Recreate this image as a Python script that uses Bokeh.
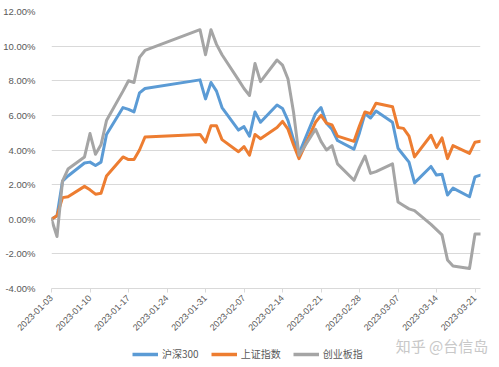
import pandas as pd
from bokeh.plotting import figure
from bokeh.layouts import column
from bokeh.models import (ColumnDataSource, FixedTicker, DatetimeTickFormatter,
                          PrintfTickFormatter, Legend, LegendItem, Range1d, Label)
from bokeh.embed import file_html
from bokeh.resources import INLINE
import math

dates = ["2023-01-03", "2023-01-04", "2023-01-05", "2023-01-06", "2023-01-09", "2023-01-10",
         "2023-01-11", "2023-01-12", "2023-01-13", "2023-01-16", "2023-01-17", "2023-01-18",
         "2023-01-19", "2023-01-20", "2023-01-30", "2023-01-31",
         "2023-02-01", "2023-02-02", "2023-02-03", "2023-02-06", "2023-02-07", "2023-02-08",
         "2023-02-09", "2023-02-10", "2023-02-13", "2023-02-14", "2023-02-15", "2023-02-16",
         "2023-02-17", "2023-02-20", "2023-02-21", "2023-02-22", "2023-02-23", "2023-02-24",
         "2023-02-27", "2023-02-28",
         "2023-03-01", "2023-03-02", "2023-03-03", "2023-03-06", "2023-03-07", "2023-03-08",
         "2023-03-09", "2023-03-10", "2023-03-13", "2023-03-14", "2023-03-15", "2023-03-16",
         "2023-03-17", "2023-03-20", "2023-03-21", "2023-03-22"]

hs300 = [0.0, 0.2, 2.2, 2.5, 3.25, 3.3, 3.1, 3.3, 4.9, 6.45, 6.35, 6.2, 7.3, 7.55, 8.05, 6.95,
         7.9, 7.4, 6.45, 5.15, 5.35, 4.8, 6.2, 5.6, 6.6, 6.4, 5.7, 4.6, 3.8, 6.1, 6.45, 5.55,
         5.2, 4.55, 4.05, 5.0,
         6.1, 5.85, 6.25, 5.6, 4.1, 3.7, 3.3, 2.1, 3.05, 2.55, 2.6, 1.4, 1.8, 1.3, 2.45, 2.55]

sse = [0.0, 0.2, 1.25, 1.3, 1.9, 1.7, 1.45, 1.5, 2.5, 3.6, 3.45, 3.45, 4.0, 4.75, 4.9, 4.45,
       5.4, 5.4, 4.6, 3.9, 4.2, 3.7, 4.9, 4.65, 5.3, 5.65, 5.2, 4.3, 3.5, 5.6, 6.0, 5.55,
       5.45, 4.8, 4.5, 5.4,
       6.2, 6.1, 6.7, 6.5, 5.3, 5.25, 4.8, 3.6, 4.85, 4.15, 4.7, 3.5, 4.25, 3.8, 4.45, 4.5]

chinext = [0.0, -1.0, 2.2, 2.9, 3.6, 4.95, 3.75, 4.3, 5.7, 7.4, 8.0, 7.9, 9.35, 9.75, 10.95, 9.5,
           10.95, 10.1, 9.5, 8.05, 7.55, 7.15, 9.0, 7.95, 9.2, 8.9, 8.1, 6.2, 3.7, 5.2, 4.5, 4.0,
           4.25, 3.2, 2.25, 3.0,
           3.65, 2.65, 2.75, 3.2, 1.0, 0.8, 0.6, 0.5, -0.3, -0.6, -0.9, -2.35, -2.7, -2.85, -0.85, -0.85]

tick_dates = ["2023-01-03", "2023-01-10", "2023-01-17", "2023-01-24", "2023-01-31", "2023-02-07",
              "2023-02-14", "2023-02-21", "2023-02-28", "2023-03-07", "2023-03-14", "2023-03-21"]
y_ticks = [-4, -2, 0, 2, 4, 6, 8, 10, 12]
series_keys = ["hs300", "sse", "chinext"]
series_names = ["沪深300", "上证指数", "创业板指"]
colors = ["#5B9BD5", "#ED7D31", "#A5A5A5"]
watermark = "知乎 @台信岛"

x = [d.to_pydatetime() for d in pd.to_datetime(dates)]
src = ColumnDataSource(dict(x=x, hs300=hs300, sse=sse, chinext=chinext))

W = 491
p = figure(width=W, height=336, x_axis_type="datetime", output_backend="svg",
           toolbar_location=None,
           x_range=Range1d(x[0], x[-1]), y_range=Range1d(y_ticks[0], y_ticks[-1]),
           min_border_left=48, min_border_right=11, min_border_top=11, min_border_bottom=48)
p.outline_line_color = None

for key, col in zip(series_keys, colors):
    p.line("x", key, source=src, line_color=col, line_width=3,
           line_join="round", line_cap="round")

tick_ms = [pd.Timestamp(d).value / 1e6 for d in tick_dates]
p.xaxis.ticker = FixedTicker(ticks=tick_ms)
p.xaxis.formatter = DatetimeTickFormatter(days="%Y-%m-%d", months="%Y-%m-%d",
                                          years="%Y-%m-%d", hours="%Y-%m-%d")
p.xaxis.major_label_orientation = math.pi / 4
p.xaxis.major_label_text_font = "Liberation Sans"
p.xaxis.major_label_text_font_size = "9px"
p.xaxis.major_label_text_color = "#595959"
p.xaxis.axis_line_color = "#D9D9D9"
p.xaxis.major_tick_line_color = "#D9D9D9"
p.xaxis.major_tick_out = 4
p.xaxis.major_tick_in = 0
p.xaxis.minor_tick_line_color = None
p.xaxis.major_label_standoff = 4

p.yaxis.ticker = FixedTicker(ticks=y_ticks)
p.yaxis.formatter = PrintfTickFormatter(format="%.2f%%")
p.yaxis.major_label_text_font = "Liberation Sans"
p.yaxis.major_label_text_font_size = "9.5px"
p.yaxis.major_label_text_color = "#595959"
p.yaxis.axis_line_color = None
p.yaxis.major_tick_line_color = None
p.yaxis.minor_tick_line_color = None
p.yaxis.major_label_standoff = 10

p.xgrid.visible = False
p.ygrid.grid_line_color = "#D9D9D9"
p.ygrid.grid_line_width = 1

# legend strip below the chart (series are re-drawn off-range there, only for legend glyphs)
LW, LH = 499, 31
q = figure(width=LW, height=LH, output_backend="svg", toolbar_location=None,
           x_range=Range1d(0, LW), y_range=Range1d(0, LH),
           x_axis_location=None, y_axis_location=None,
           min_border_left=0, min_border_right=0, min_border_top=0, min_border_bottom=0)
q.outline_line_color = None
q.xgrid.visible = False
q.ygrid.visible = False
proxies = [q.line("x", key, source=src, line_color=c, line_width=3.5)
           for key, c in zip(series_keys, colors)]
items = [LegendItem(label=n, renderers=[r]) for n, r in zip(series_names, proxies)]
legend = Legend(items=items, orientation="horizontal", location=(81, 6),
                glyph_width=26, glyph_height=14, label_height=14, label_standoff=4,
                spacing=12, padding=2, margin=0,
                border_line_color=None, background_fill_alpha=0,
                label_text_font="Noto Sans CJK SC", label_text_font_size="10px",
                label_text_color="#595959")
q.add_layout(legend, "center")

wm = Label(x=393, y=22, text=watermark,
           text_font="Noto Sans CJK SC", text_font_size="15px", text_color="#C8C8C8",
           text_baseline="middle", text_align="left")
q.add_layout(wm)

layout = column(p, q, spacing=0)
open("out.html", "w").write(file_html(layout, INLINE))
